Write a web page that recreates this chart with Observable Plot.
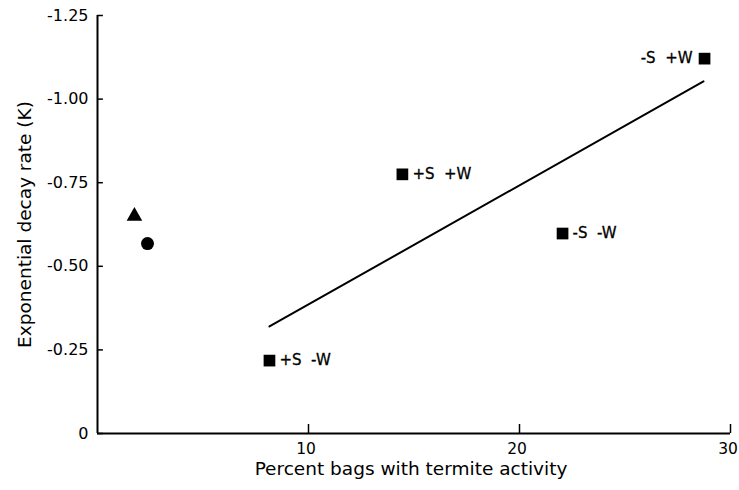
<!DOCTYPE html>
<html>
<head>
<meta charset="utf-8">
<script src="https://cdn.jsdelivr.net/npm/d3@7"></script>
<script src="https://cdn.jsdelivr.net/npm/@observablehq/plot@0.6"></script>
<style>
  html, body { margin: 0; padding: 0; background: #fff; }
  svg text { font-family: "DejaVu Sans", sans-serif; }
</style>
</head>
<body>
<div id="chart"></div>
<script>
// Treatment squares
const treatLabels = ["+S  -W", "+S  +W", "-S  -W", "-S  +W"];
const treatX = [8.15, 14.45, 22.04, 28.77];
const treatY = [-0.218, -0.775, -0.598, -1.121];

// Other points
const triangleX = [1.75];
const triangleY = [-0.65];
const circleX = [2.37];
const circleY = [-0.568];

// Regression line endpoints
const fitX = [8.15, 28.72];
const fitY = [-0.32, -1.053];

// Ticks
const xTicks = [10, 20, 30];
const yTicks = [0, -0.25, -0.5, -0.75, -1.0, -1.25];

const xTitle = "Percent bags with termite activity";
const yTitle = "Exponential decay rate (K)";

const treat = treatLabels.map((l, i) => ({label: l.replace("  ", "\u00a0 "), x: treatX[i], y: treatY[i]}));
const tri = triangleX.map((x, i) => ({x, y: triangleY[i]}));
const circ = circleX.map((x, i) => ({x, y: circleY[i]}));
const fit = fitX.map((x, i) => ({x, y: fitY[i]}));

const fmtY = d => d === 0 ? "0" : d.toFixed(2);

const chart = Plot.plot({
  width: 739,
  height: 490,
  marginLeft: 97,
  marginRight: 9,
  marginTop: 15,
  marginBottom: 57,
  style: {fontFamily: "DejaVu Sans, sans-serif", background: "#fff", color: "#000"},
  x: {domain: [0, 30]},
  y: {domain: [0, -1.25]},
  marks: [
    Plot.axisX({ticks: xTicks, tickSize: 0, tickPadding: 9, fontSize: 15.5, dx: -2.5, label: null}),
    Plot.axisY({ticks: yTicks, tickSize: 0, tickPadding: 9, fontSize: 16, label: null, tickFormat: fmtY}),
    Plot.ruleX([0], {stroke: "#000", strokeWidth: 2}),
    Plot.ruleY([0], {stroke: "#000", strokeWidth: 2}),
    Plot.ruleX(xTicks, {x: d => d, y1: 0, y2: -0.027, stroke: "#000", strokeWidth: 1.5}),
    Plot.ruleY(yTicks, {y: d => d, x1: 0, x2: 0.28, stroke: "#000", strokeWidth: 1.5}),
    Plot.line(fit, {x: "x", y: "y", stroke: "#000", strokeWidth: 2}),
    Plot.dot(treat, {x: "x", y: "y", symbol: "square", r: 6.6, fill: "#000", stroke: "none"}),
    Plot.dot(tri, {x: "x", y: "y", symbol: "triangle", r: 5.8, fill: "#000", stroke: "none"}),
    Plot.dot(circ, {x: "x", y: "y", symbol: "circle", r: 6.5, fill: "#000", stroke: "none"}),
    Plot.text(treat.filter(d => d.x < 25), {x: "x", y: "y", text: "label", dx: 10, textAnchor: "start", fontSize: 15, fill: "#000", stroke: "#000", strokeWidth: 0.3}),
    Plot.text(treat.filter(d => d.x >= 25), {x: "x", y: "y", text: "label", dx: -12, textAnchor: "end", fontSize: 15, fill: "#000", stroke: "#000", strokeWidth: 0.3}),
    Plot.text([xTitle], {text: d => d, frameAnchor: "bottom", textAnchor: "middle", dx: -3, dy: 41, fontSize: 18.5, fill: "#000"}),
    Plot.text([yTitle], {text: d => d, frameAnchor: "left", textAnchor: "middle", dx: -72, rotate: -90, fontSize: 18.5, fill: "#000"})
  ]
});
document.getElementById("chart").appendChild(chart);
</script>
</body>
</html>
